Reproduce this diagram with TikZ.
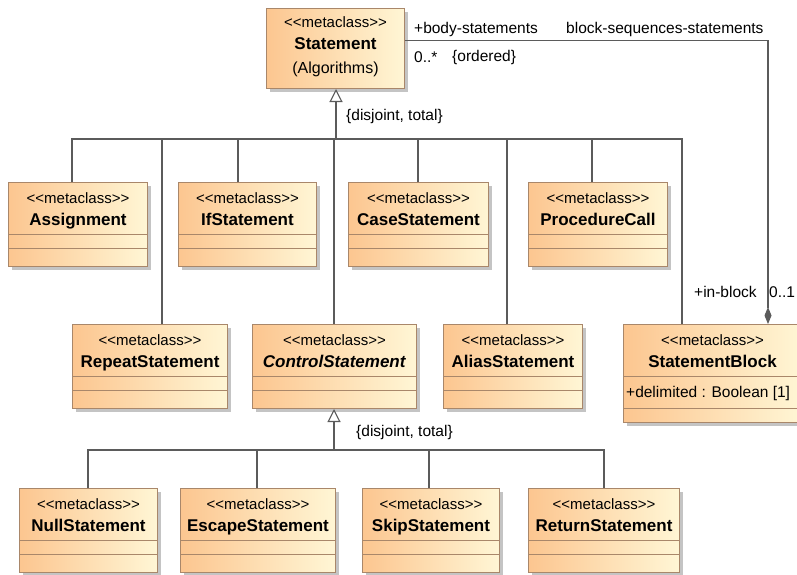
\documentclass[tikz,border=0pt]{standalone}
\usepackage{fontspec}
\setmainfont{Liberation Sans}
\usepackage{tikz}
\usetikzlibrary{calc,arrows.meta,positioning,shadows}
\definecolor{clsorange}{HTML}{FCC690}
\definecolor{clscream}{HTML}{FFF6D5}
\definecolor{clsedge}{HTML}{A9876A}
\definecolor{linec}{HTML}{5B5B5B}
\definecolor{shadowc}{HTML}{C4C4C4}
\tikzset{
  cls/.style={draw=clsedge,line width=1pt,left color=clsorange,right color=clscream,anchor=north west,inner sep=0pt,minimum height=84pt,
    drop shadow={shadow xshift=3pt,shadow yshift=-3pt,fill=shadowc,opacity=1}},
  sep/.style={draw=clsedge,line width=1pt},
  stereo/.style={anchor=base,inner sep=0pt,font=\fontsize{15}{17}\selectfont},
  cname/.style={anchor=base,inner sep=0pt,font=\fontsize{17}{19}\selectfont\bfseries},
  lbl/.style={anchor=west,inner sep=0pt,font=\fontsize{15.5}{17}\selectfont},
  ln/.style={draw=linec,line width=1.1pt},
  gen/.style={ln,-{Triangle[open,length=13pt,width=13pt]}},
  comp/.style={ln,-{Diamond[length=17pt,width=7pt,fill=linec]}}
}
\newcommand{\stereotxt}{\textless\kern0pt\textless metaclass\textgreater\kern0pt\textgreater}

\begin{document}
\begin{tikzpicture}[x=1pt,y=-1pt]
\fill[white] (0,0) rectangle (797,574);
\useasboundingbox (0,0) rectangle (797,574);
% root class
\node[cls,minimum width=138pt,minimum height=80pt] (stmt) at (266,8) {};
\node[stereo] (stmt-st) at ($(stmt.north)+(0,19)$) {\stereotxt};
\node[cname] (stmt-nm) at ($(stmt.north)+(0,41)$) {Statement};
\node[stereo,font=\fontsize{16}{18}\selectfont] (stmt-pk) at ($(stmt.north)+(0,65)$) {(Algorithms)};
% generalization buses
\coordinate (topbus) at (336,139);
\coordinate (lowbus) at (334,450);
\foreach \id/\px/\py/\w/\nm/\off/\bus in {
  assign/8/182/139/Assignment/64/topbus,
  ifst/178/182/138/IfStatement/60/topbus,
  casest/348/182/140/CaseStatement/70/topbus,
  proccall/528/182/139/ProcedureCall/64/topbus,
  repeatst/72/324/155/RepeatStatement/90/topbus,
  control/252/324/164/\textit{ControlStatement}/82/topbus,
  aliasst/443/324/139/AliasStatement/64/topbus,
  nullst/19/488/138/NullStatement/69/lowbus,
  escapest/180/488/155/EscapeStatement/77/lowbus,
  skipst/362/488/137/SkipStatement/67/lowbus,
  returnst/528/488/151/ReturnStatement/76/lowbus}{
  \node[cls,minimum width=\w pt] (\id) at (\px,\py) {};
  \node[stereo] (\id-st) at ($(\id.north)+(0,21)$) {\stereotxt};
  \node[cname] (\id-nm) at ($(\id.north)+(0,43)$) {\nm};
  \draw[sep] ($(\id.north west)+(0,52)$) -- ($(\id.north east)+(0,52)$);
  \draw[sep] ($(\id.north west)+(0,66)$) -- ($(\id.north east)+(0,66)$);
  \draw[ln] (\bus) -| ([xshift=\off pt]\id.north west);
}
% block class
\node[cls,minimum width=178pt,minimum height=98pt] (block) at (623,324) {};
\node[stereo] (block-st) at ($(block.north)+(0,21)$) {\stereotxt};
\node[cname] (block-nm) at ($(block.north)+(0,43)$) {StatementBlock};
\draw[sep] ($(block.north west)+(0,52)$) -- ($(block.north east)+(0,52)$);
\draw[sep] ($(block.north west)+(0,84)$) -- ($(block.north east)+(0,84)$);
\node[stereo,anchor=base west,font=\fontsize{15.5}{17}\selectfont] (block-at) at ($(block.north west)+(3,73)$) {+delimited : Boolean [1]};
\draw[ln] (topbus) -| ([xshift=59pt]block.north west);
% arrows
\draw[gen] (topbus) -- (topbus |- stmt.south);
\draw[gen] (lowbus) -- (lowbus |- control.south);
\draw[comp] ([yshift=8pt]stmt.east) -| ([xshift=145pt]block.north west);
% labels
\node[lbl] (bodyl) at (414,29) {+body-statements};
\node[lbl] (seql) at (566,29) {block-sequences-statements};
\node[lbl] (multl) at (414,57) {0..*};
\node[lbl] (ordl) at (452,57) {\{ordered\}};
\node[lbl] (disjl) at (346,116) {\{disjoint, total\}};
\node[lbl] (disjm) at (356,432) {\{disjoint, total\}};
\node[lbl] (inbl) at (694,292) {+in-block};
\node[lbl] (multm) at (769,292) {0..1};
\end{tikzpicture}
\end{document}
